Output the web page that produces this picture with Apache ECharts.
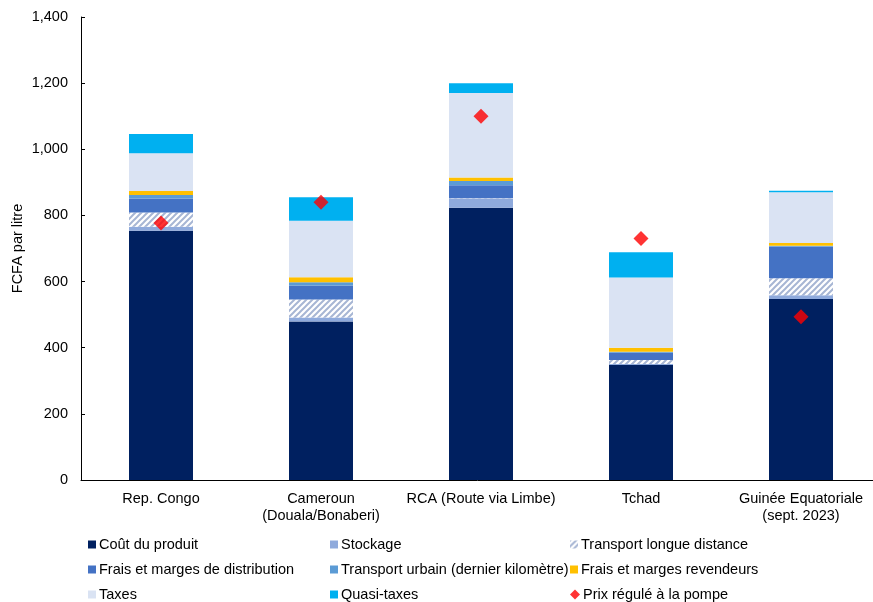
<!DOCTYPE html>
<html>
<head>
<meta charset="utf-8">
<script src="https://cdn.jsdelivr.net/npm/echarts@6/dist/echarts.min.js"></script>
<style>
  html, body { margin: 0; padding: 0; background: #fff; }
  #chart { width: 873px; height: 602px; }
</style>
</head>
<body>
<div id="chart"></div>
<script>
// Categories (pays)
const categories = ['Rep. Congo', 'Cameroun\n(Douala/Bonaberi)', 'RCA (Route via Limbe)', 'Tchad', 'Guinée Equatoriale\n(sept. 2023)'];

// Composantes du prix, en FCFA par litre (empilées de bas en haut)
const coutProduit      = [754, 479, 823, 348, 547];
const stockage         = [12, 12, 29, 3, 12];
const transportLongue  = [43, 55, 1, 12, 51];
const fraisDistrib     = [42, 42, 38, 22, 96];
const transportUrbain  = [11, 10, 13, 3, 2];
const fraisRevendeurs  = [12, 15, 11, 12, 9];
const taxes            = [114, 171, 255, 212, 153];
const quasiTaxes       = [58, 71, 30, 77, 5];

// Prix régulé à la pompe
const prixRegule = [777, 840, 1100, 730, 494];

// Axe des ordonnées
const yTicks = [0, 200, 400, 600, 800, 1000, 1200, 1400];

// Motif hachuré pour le transport longue distance
function hatchPattern() {
  const c = document.createElement('canvas');
  const s = 6;
  c.width = s; c.height = s;
  const g = c.getContext('2d');
  g.fillStyle = '#ffffff';
  g.fillRect(0, 0, s, s);
  g.strokeStyle = '#a7b6d4';
  g.lineWidth = 2;
  g.beginPath();
  g.moveTo(-1, s + 1); g.lineTo(s + 1, -1);
  g.moveTo(-1, 1); g.lineTo(1, -1);
  g.moveTo(s - 1, s + 1); g.lineTo(s + 1, s - 1);
  g.stroke();
  return { image: c, repeat: 'repeat' };
}

const font = 'Liberation Sans, Arial, sans-serif';
const fs = 14.5;

function barSeries(name, data, color) {
  return {
    name: name,
    type: 'bar',
    stack: 'prix',
    data: data,
    barWidth: 64,
    itemStyle: { color: color },
    emphasis: { disabled: true }
  };
}

// Légende sur trois colonnes et trois lignes
const legendCols = [88, 330, 570];
const legendRows = [537, 562, 587];
const legendItems = [
  ['Coût du produit', 'Stockage', 'Transport longue distance'],
  ['Frais et marges de distribution', 'Transport urbain (dernier kilomètre)', 'Frais et marges revendeurs'],
  ['Taxes', 'Quasi-taxes', 'Prix régulé à la pompe']
];
const legends = [];
legendItems.forEach((row, r) => {
  row.forEach((name, c) => {
    const isPrix = name === 'Prix régulé à la pompe';
    legends.push({
      left: legendCols[c],
      top: legendRows[r],
      padding: 0,
      itemWidth: isPrix ? 10 : 8,
      itemHeight: isPrix ? 10 : 8,
      itemGap: 0,
      selectedMode: false,
      textStyle: { fontFamily: font, fontSize: fs, color: '#000', padding: [0, 0, 0, -2] },
      data: [{ name: name, icon: isPrix ? 'diamond' : 'rect' }]
    });
  });
});

const chart = echarts.init(document.getElementById('chart'));

chart.setOption({
  animation: false,
  backgroundColor: '#fff',
  textStyle: { fontFamily: font },
  grid: { left: 81, top: 17, width: 800, height: 463, outerBoundsMode: 'none' },
  legend: legends,
  xAxis: {
    type: 'category',
    data: categories,
    axisLine: { lineStyle: { color: '#000', width: 1 } },
    axisTick: { show: false },
    axisLabel: { color: '#000', fontSize: fs, fontFamily: font, margin: 10, lineHeight: 17, interval: 0 }
  },
  yAxis: {
    type: 'value',
    min: yTicks[0],
    max: yTicks[yTicks.length - 1],
    interval: 200,
    name: 'FCFA par litre',
    nameLocation: 'middle',
    nameGap: 56,
    nameMoveOverlap: false,
    nameTextStyle: { color: '#000', fontSize: fs, fontFamily: font },
    axisLine: { show: true, lineStyle: { color: '#000', width: 1 } },
    axisTick: { show: true, inside: true, length: 4, lineStyle: { color: '#000' } },
    splitLine: { show: false },
    axisLabel: {
      color: '#000', fontSize: fs, fontFamily: font, margin: 13,
      formatter: v => v.toLocaleString('en-US')
    }
  },
  series: [
    barSeries('Coût du produit', coutProduit, '#002060'),
    barSeries('Stockage', stockage, '#8faadc'),
    barSeries('Transport longue distance', transportLongue, hatchPattern()),
    barSeries('Frais et marges de distribution', fraisDistrib, '#4472c4'),
    barSeries('Transport urbain (dernier kilomètre)', transportUrbain, '#5b9bd5'),
    barSeries('Frais et marges revendeurs', fraisRevendeurs, '#ffc000'),
    barSeries('Taxes', taxes, '#dae3f3'),
    barSeries('Quasi-taxes', quasiTaxes, '#00b0f0'),
    {
      name: 'Prix régulé à la pompe',
      type: 'scatter',
      data: prixRegule,
      symbol: 'diamond',
      symbolSize: 15,
      itemStyle: { color: '#ff0000' },
      z: 5,
      emphasis: { disabled: true }
    }
  ]
});
</script>
</body>
</html>
